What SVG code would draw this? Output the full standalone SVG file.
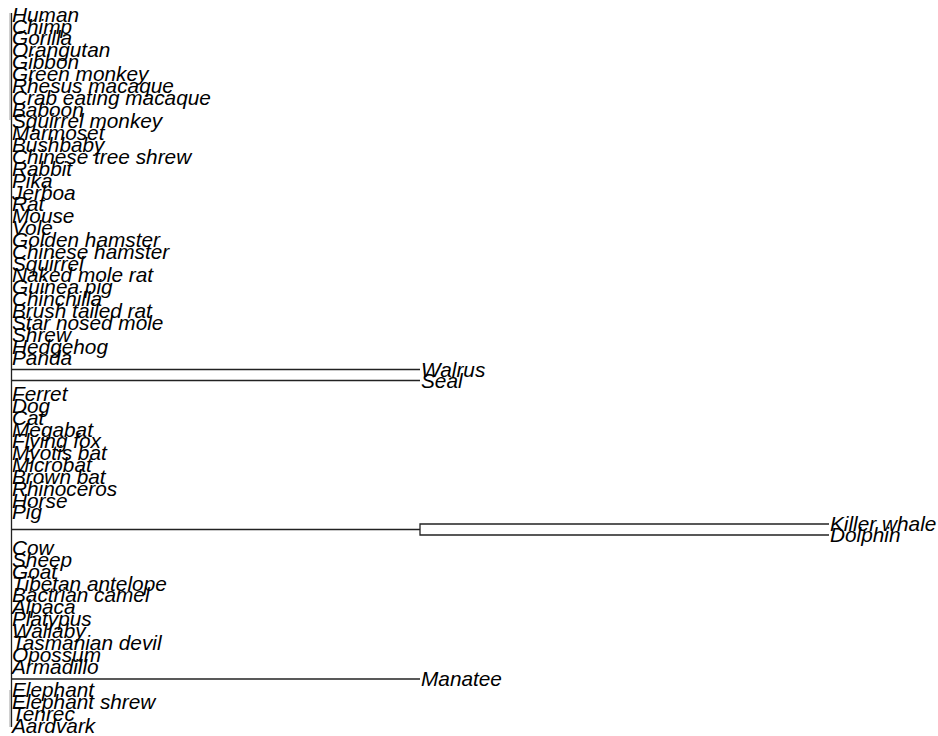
<svg xmlns="http://www.w3.org/2000/svg" width="938" height="736" viewBox="0 0 938 736">
<style>
  .lbl { font-family: "Liberation Sans", Arial, sans-serif; font-style: italic; font-size: 20.8px; fill: #000; }
  .br { stroke: #222; stroke-width: 1.3; fill: none; }
</style>
<rect width="938" height="736" fill="#fff"/>
<g id="connectors">
  <line class="br" x1="11.5" y1="13" x2="11.5" y2="727"/>
  <line x1="10" y1="13" x2="10" y2="120" stroke="#888" stroke-width="0.8"/>
  <line x1="10" y1="690" x2="10" y2="727" stroke="#888" stroke-width="0.8"/>
  <line class="br" x1="11" y1="369.5" x2="420" y2="369.5"/>
  <line class="br" x1="11" y1="380.5" x2="420" y2="380.5"/>
  <path class="br" d="M11 529.5H420M829 524H420V535H829"/>
  <line class="br" x1="11" y1="679" x2="420" y2="679"/>
</g>
<g>
  <g id="tip-human"><text class="lbl" x="12" y="21.7">Human</text></g>
  <g id="tip-chimp"><text class="lbl" x="12" y="33.6">Chimp</text></g>
  <g id="tip-gorilla"><text class="lbl" x="12" y="45.4">Gorilla</text></g>
  <g id="tip-orangutan"><text class="lbl" x="12" y="57.3">Orangutan</text></g>
  <g id="tip-gibbon"><text class="lbl" x="12" y="69.1">Gibbon</text></g>
  <g id="tip-green-monkey"><text class="lbl" x="12" y="81">Green monkey</text></g>
  <g id="tip-rhesus-macaque"><text class="lbl" x="12" y="92.8">Rhesus macaque</text></g>
  <g id="tip-crab-eating-macaque"><text class="lbl" x="12" y="104.7">Crab eating macaque</text></g>
  <g id="tip-baboon"><text class="lbl" x="12" y="116.5">Baboon</text></g>
  <g id="tip-squirrel-monkey"><text class="lbl" x="12" y="128.4">Squirrel monkey</text></g>
  <g id="tip-marmoset"><text class="lbl" x="12" y="140.2">Marmoset</text></g>
  <g id="tip-bushbaby"><text class="lbl" x="12" y="152.1">Bushbaby</text></g>
  <g id="tip-chinese-tree-shrew"><text class="lbl" x="12" y="163.9">Chinese tree shrew</text></g>
  <g id="tip-rabbit"><text class="lbl" x="12" y="175.8">Rabbit</text></g>
  <g id="tip-pika"><text class="lbl" x="12" y="187.6">Pika</text></g>
  <g id="tip-jerboa"><text class="lbl" x="12" y="199.5">Jerboa</text></g>
  <g id="tip-rat"><text class="lbl" x="12" y="211.3">Rat</text></g>
  <g id="tip-mouse"><text class="lbl" x="12" y="223.2">Mouse</text></g>
  <g id="tip-vole"><text class="lbl" x="12" y="235">Vole</text></g>
  <g id="tip-golden-hamster"><text class="lbl" x="12" y="246.9">Golden hamster</text></g>
  <g id="tip-chinese-hamster"><text class="lbl" x="12" y="258.7">Chinese hamster</text></g>
  <g id="tip-squirrel"><text class="lbl" x="12" y="270.6">Squirrel</text></g>
  <g id="tip-naked-mole-rat"><text class="lbl" x="12" y="282.4">Naked mole rat</text></g>
  <g id="tip-guinea-pig"><text class="lbl" x="12" y="294.3">Guinea pig</text></g>
  <g id="tip-chinchilla"><text class="lbl" x="12" y="306.1">Chinchilla</text></g>
  <g id="tip-brush-tailed-rat"><text class="lbl" x="12" y="318">Brush tailed rat</text></g>
  <g id="tip-star-nosed-mole"><text class="lbl" x="12" y="329.8">Star nosed mole</text></g>
  <g id="tip-shrew"><text class="lbl" x="12" y="341.7">Shrew</text></g>
  <g id="tip-hedgehog"><text class="lbl" x="12" y="353.5">Hedgehog</text></g>
  <g id="tip-panda"><text class="lbl" x="12" y="365.4">Panda</text></g>
  <g id="tip-walrus"><text class="lbl" x="421" y="376.5">Walrus</text></g>
  <g id="tip-seal"><text class="lbl" x="421" y="387.5">Seal</text></g>
  <g id="tip-ferret"><text class="lbl" x="12" y="400.9">Ferret</text></g>
  <g id="tip-dog"><text class="lbl" x="12" y="412.8">Dog</text></g>
  <g id="tip-cat"><text class="lbl" x="12" y="424.6">Cat</text></g>
  <g id="tip-megabat"><text class="lbl" x="12" y="436.5">Megabat</text></g>
  <g id="tip-flying-fox"><text class="lbl" x="12" y="448.3">Flying fox</text></g>
  <g id="tip-myotis-bat"><text class="lbl" x="12" y="460.2">Myotis bat</text></g>
  <g id="tip-microbat"><text class="lbl" x="12" y="472">Microbat</text></g>
  <g id="tip-brown-bat"><text class="lbl" x="12" y="483.9">Brown bat</text></g>
  <g id="tip-rhinoceros"><text class="lbl" x="12" y="495.7">Rhinoceros</text></g>
  <g id="tip-horse"><text class="lbl" x="12" y="507.6">Horse</text></g>
  <g id="tip-pig"><text class="lbl" x="12" y="519.4">Pig</text></g>
  <g id="tip-killer-whale"><text class="lbl" x="830" y="531">Killer whale</text></g>
  <g id="tip-dolphin"><text class="lbl" x="830" y="542">Dolphin</text></g>
  <g id="tip-cow"><text class="lbl" x="12" y="555">Cow</text></g>
  <g id="tip-sheep"><text class="lbl" x="12" y="566.8">Sheep</text></g>
  <g id="tip-goat"><text class="lbl" x="12" y="578.7">Goat</text></g>
  <g id="tip-tibetan-antelope"><text class="lbl" x="12" y="590.5">Tibetan antelope</text></g>
  <g id="tip-bactrian-camel"><text class="lbl" x="12" y="602.4">Bactrian camel</text></g>
  <g id="tip-alpaca"><text class="lbl" x="12" y="614.2">Alpaca</text></g>
  <g id="tip-platypus"><text class="lbl" x="12" y="626.1">Platypus</text></g>
  <g id="tip-wallaby"><text class="lbl" x="12" y="637.9">Wallaby</text></g>
  <g id="tip-tasmanian-devil"><text class="lbl" x="12" y="649.8">Tasmanian devil</text></g>
  <g id="tip-opossum"><text class="lbl" x="12" y="661.6">Opossum</text></g>
  <g id="tip-armadillo"><text class="lbl" x="12" y="673.5">Armadillo</text></g>
  <g id="tip-manatee"><text class="lbl" x="421" y="686">Manatee</text></g>
  <g id="tip-elephant"><text class="lbl" x="12" y="697.2">Elephant</text></g>
  <g id="tip-elephant-shrew"><text class="lbl" x="12" y="709">Elephant shrew</text></g>
  <g id="tip-tenrec"><text class="lbl" x="12" y="720.9">Tenrec</text></g>
  <g id="tip-aardvark"><text class="lbl" x="12" y="732.7">Aardvark</text></g>
</g>
</svg>
